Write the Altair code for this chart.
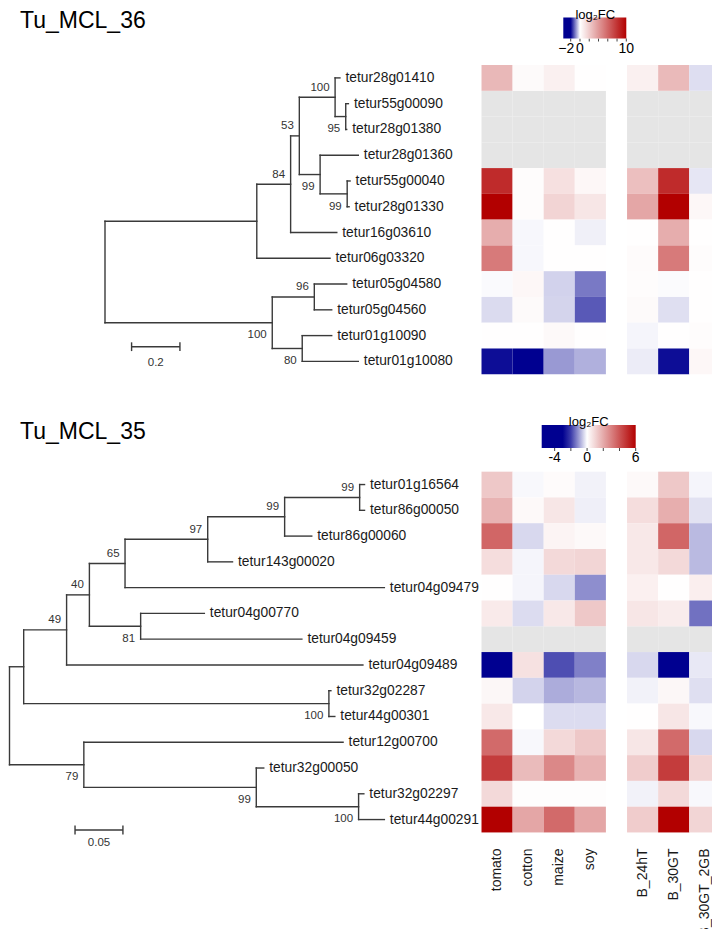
import altair as alt
import pandas as pd

# ---------------- data ----------------
conditions = ["tomato", "cotton", "maize", "soy", "B_24hT", "B_30GT", "B_30GT_2GB"]
condition_group = [0, 0, 0, 0, 1, 1, 1]

# --- Tu_MCL_36 tree (depths = distance from root, substitutions/site) ---
leaves36 = ["tetur28g01410", "tetur55g00090", "tetur28g01380", "tetur28g01360",
            "tetur55g00040", "tetur28g01330", "tetur16g03610", "tetur06g03320",
            "tetur05g04580", "tetur05g04560", "tetur01g10090", "tetur01g10080"]
leaf_parent36 = ["D", "F", "F", "E", "G", "G", "B", "A", "I", "I", "J", "J"]
leaf_depth36 = [0.972, 1.007, 1.000, 1.048, 1.014, 1.010, 0.959, 0.931, 1.000, 0.938, 0.938, 1.048]
nodes36 = ["root", "A", "B", "C", "D", "F", "E", "G", "H", "I", "J"]
node_parent36 = ["", "root", "A", "B", "C", "D", "C", "E", "root", "H", "H"]
node_depth36 = [0.0, 0.628, 0.768, 0.804, 0.952, 0.996, 0.890, 1.002, 0.692, 0.866, 0.816]
node_boot36 = [None, None, 84, 53, 100, 95, 99, 99, 100, 96, 80]
node_side36 = ["", "", "above", "above", "above", "below", "below", "below", "below", "above", "below"]
scalebar36 = 0.2

# --- Tu_MCL_35 tree ---
leaves35 = ["tetur01g16564", "tetur86g00050", "tetur86g00060", "tetur143g00020",
            "tetur04g09479", "tetur04g00770", "tetur04g09459", "tetur04g09489",
            "tetur32g02287", "tetur44g00301", "tetur12g00700", "tetur32g00050",
            "tetur32g02297", "tetur44g00291"]
leaf_parent35 = ["T", "T", "S", "R", "Q", "U", "U", "M", "N", "N", "L", "V", "W", "W"]
leaf_depth35 = [0.3706, 0.3706, 0.3155, 0.2328, 0.3913, 0.2034, 0.3052, 0.3689,
                0.3355, 0.3396, 0.3482, 0.2654, 0.3699, 0.3913]
nodes35 = ["root", "K", "M", "P", "Q", "R", "S", "T", "U", "N", "L", "V", "W"]
node_parent35 = ["", "root", "K", "M", "P", "Q", "R", "S", "P", "K", "root", "L", "V"]
node_depth35 = [0.0, 0.0148, 0.0596, 0.0834, 0.1206, 0.2069, 0.2872, 0.3655, 0.1369,
                0.3334, 0.0776, 0.2576, 0.3644]
node_boot35 = [None, None, 49, 40, 65, 97, 99, 99, 81, 100, 79, 99, 100]
node_side35 = ["", "", "above", "above", "above", "above", "above", "above", "below",
               "below", "below", "below", "below"]
scalebar35 = 0.05

# --- log2FC values (None = no data, grey) ---
tomato36 = [2.8, None, None, None, 8.3, 10.0, 3.2, 5.2, -0.04, -0.28, 0.05, -1.9]
cotton36 = [0.2, None, None, None, 0.1, 0.1, -0.06, -0.06, 0.3, 0.2, 0.03, -2.2]
maize36 = [0.6, None, None, None, 1.2, 1.7, 0.05, 0.05, -0.35, -0.34, 0.25, -0.8]
soy36 = [0.05, None, None, None, 0.3, 1.0, -0.12, 0.05, -1.05, -1.3, 0.05, -0.62]
b24ht36 = [0.6, None, None, None, 2.5, 3.5, 0.05, 0.15, 0.1, 0.2, -0.08, -0.15]
b30gt36 = [2.7, None, None, None, 8.3, 10.0, 3.2, 5.2, -0.03, -0.25, 0.02, -1.9]
b30gt2gb36 = [-0.26, None, None, None, -0.2, 0.3, 0.05, 0.1, 0.05, 0.05, 0.1, 0.3]

tomato35 = [1.3, 1.8, 3.6, 0.8, 0.03, 0.5, None, -3.0, 0.2, 0.55, 3.5, 4.6, 0.9, 6.0]
cotton35 = [-0.07, 0.15, -0.4, -0.1, -0.1, -0.36, None, 0.7, -0.45, 0.0, -0.07, 1.6, 0.05, 2.1]
maize35 = [0.1, 0.6, 0.25, 0.9, -0.4, 0.55, None, -1.8, -0.85, -0.36, 0.9, 2.8, 0.05, 3.5]
soy35 = [-0.13, -0.16, 0.15, 1.0, -1.15, 1.3, None, -1.3, -0.72, -0.36, 1.3, 1.8, 0.05, 2.1]
b24ht35 = [0.15, 0.8, 0.55, 0.55, 0.35, 0.6, None, -0.4, -0.13, 0.03, 0.6, 1.2, -0.13, 1.2]
b30gt35 = [1.3, 1.9, 3.6, 0.9, 0.03, 0.45, None, -3.0, 0.2, 0.6, 3.5, 4.6, 0.9, 6.0]
b30gt2gb35 = [-0.1, -0.3, -0.7, -0.7, 0.4, -1.45, None, -0.23, -0.33, -0.07, -0.4, 1.0, -0.07, 1.0]

# colour-bar ticks and labels
cbar_ticks36 = [-2, 0, 2, 4, 6, 8, 10]
cbar_labels36 = ["−2", "0", "10"]
cbar_label_values36 = [-2, 0, 10]
cbar_ticks35 = [-4, -2, 0, 2, 4, 6]
cbar_labels35 = ["-4", "0", "6"]
cbar_label_values35 = [-4, 0, 6]

titles = ["Tu_MCL_36", "Tu_MCL_35"]

# ---------------- layout ----------------
W, H = 704, 921
MARGIN = 8
ROW0 = 77.9          # screen y of first row centre
ROW_PX = 25.77
OFFSET35 = 15.78     # row offset of the second block
HEAT_LEFT = 481.5
COL_PX = 31.1
GROUP_GAP = 0.68
FONT = "Liberation Sans"
LINE = "#3a3a3a"


def dom(origin, ppu):
    return [(MARGIN - origin) / ppu, (MARGIN + W - origin) / ppu]


YDOM = [(MARGIN - ROW0) / ROW_PX, (MARGIN + H - ROW0) / ROW_PX]
XHEAT = dom(HEAT_LEFT, COL_PX)
XT36 = dom(105, 241.7)
XT35 = dom(9.5, 958)

# colour scales and their bars (screen position of bar start, bar length)
CDOM36 = [-3.6, -2, 0, 10]
CDOM35 = [-5.6, -2.6, 0, 6]
BAR36_X, BAR36_LEN, BAR36_T = 563.3, 63, 21
BAR35_X, BAR35_LEN, BAR35_T = 541.7, 94, 23
XC36 = dom(BAR36_X - CDOM36[0] * BAR36_LEN / (CDOM36[-1] - CDOM36[0]), BAR36_LEN / (CDOM36[-1] - CDOM36[0]))
XC35 = dom(BAR35_X - CDOM35[0] * BAR35_LEN / (CDOM35[-1] - CDOM35[0]), BAR35_LEN / (CDOM35[-1] - CDOM35[0]))
LEG36_Y = 0.5
LEG35_Y = 408
TITLE_FS, TITLE_PAD = 13, -4


def yq(field="y"):
    return alt.Y(f"{field}:Q", scale=alt.Scale(domain=YDOM, reverse=True, nice=False, zero=False), axis=None)


def xq(field, d):
    return alt.X(f"{field}:Q", scale=alt.Scale(domain=d, nice=False, zero=False), axis=None)


def tree_layers(leaves, leaf_parent, leaf_depth, nodes, node_parent, node_depth,
                boots, sides, offset, xd, bar_len, bar_x, bar_y, bar_dy):
    ypos, depth, parent = {}, {}, {}
    for i, (n, p, d) in enumerate(zip(leaves, leaf_parent, leaf_depth)):
        ypos[n] = offset + i
        depth[n] = d
        parent[n] = p
    for n, p, d in zip(nodes, node_parent, node_depth):
        depth[n] = d
        parent[n] = p
    children = {n: [] for n in nodes}
    for n, p in parent.items():
        if p:
            children[p].append(n)

    def gety(n):
        if n not in ypos:
            ys = [gety(c) for c in children[n]]
            ypos[n] = (min(ys) + max(ys)) / 2
        return ypos[n]

    for n in nodes:
        gety(n)
    segs = []
    for n, p in parent.items():
        if p:
            segs.append(dict(x=depth[p], x2=depth[n], y=ypos[n], y2=ypos[n]))
    for n in nodes:
        ys = [ypos[c] for c in children[n]]
        segs.append(dict(x=depth[n], x2=depth[n], y=min(ys), y2=max(ys)))
    segdf = pd.DataFrame(segs)
    leafdf = pd.DataFrame(dict(name=leaves, x=[depth[n] for n in leaves], y=[ypos[n] for n in leaves]))
    bootrows = [dict(x=depth[n], y=ypos[n], label=str(b), side=s)
                for n, b, s in zip(nodes, boots, sides) if b is not None]
    bootdf = pd.DataFrame(bootrows)

    lines = alt.Chart(segdf).mark_rule(color=LINE, strokeWidth=1.4, strokeCap="square").encode(
        x=xq("x", xd), x2="x2:Q", y=yq(), y2="y2:Q")
    labels = alt.Chart(leafdf).mark_text(align="left", baseline="middle", dx=5.5, fontSize=13.8,
                                         font=FONT, color="#1a1a1a").encode(
        x=xq("x", xd), y=yq(), text="name:N")
    above = alt.Chart(bootdf[bootdf.side == "above"]).mark_text(
        align="right", baseline="middle", dx=-5.5, dy=-9.7, fontSize=11.5, font=FONT, color="#333333").encode(
        x=xq("x", xd), y=yq(), text="label:N")
    below = alt.Chart(bootdf[bootdf.side == "below"]).mark_text(
        align="right", baseline="middle", dx=-5.5, dy=12.7, fontSize=11.5, font=FONT, color="#333333").encode(
        x=xq("x", xd), y=yq(), text="label:N")
    tick = 0.17
    sb = pd.DataFrame([
        dict(x=bar_x, x2=bar_x + bar_len, y=bar_y, y2=bar_y),
        dict(x=bar_x, x2=bar_x, y=bar_y - tick, y2=bar_y + tick),
        dict(x=bar_x + bar_len, x2=bar_x + bar_len, y=bar_y - tick, y2=bar_y + tick),
    ])
    sbar = alt.Chart(sb).mark_rule(color=LINE, strokeWidth=1.4).encode(
        x=xq("x", xd), x2="x2:Q", y=yq(), y2="y2:Q")
    sblab = alt.Chart(pd.DataFrame(dict(x=[bar_x + bar_len / 2], y=[bar_y], t=[f"{bar_len:g}"]))).mark_text(
        align="center", baseline="middle", dy=bar_dy, fontSize=11.5, font=FONT, color="#333333").encode(
        x=xq("x", xd), y=yq(), text="t:N")
    return [lines, labels, above, below, sbar, sblab]


def heat_layers(vals, leaves, offset, cdomain, crange, legend):
    rows = []
    for j, (cond, grp) in enumerate(zip(conditions, condition_group)):
        pos = j + GROUP_GAP * grp
        for i, leaf in enumerate(leaves):
            rows.append(dict(cond=cond, leaf=leaf, x=pos, x2=pos + 1,
                             y=offset + i - 0.5, y2=offset + i + 0.5, v=vals[j][i]))
    df = pd.DataFrame(rows)
    ok = df[df.v.notna()].copy()
    na = df[df.v.isna()].drop(columns="v")
    heat = alt.Chart(ok).mark_rect(strokeWidth=0).encode(
        x=xq("x", XHEAT), x2="x2:Q", y=yq(), y2="y2:Q",
        color=alt.Color("v:Q", scale=alt.Scale(domain=cdomain, range=crange, interpolate="rgb", clamp=True),
                        legend=legend))
    grey = alt.Chart(na).mark_rect(color="#e5e5e5", strokeWidth=0).encode(
        x=xq("x", XHEAT), x2="x2:Q", y=yq(), y2="y2:Q")
    return [grey, heat]


def make_legend(x, y, length, thickness):
    return alt.Legend(orient="none", legendX=x, legendY=y, direction="horizontal",
                      gradientLength=length, gradientThickness=thickness, gradientStrokeWidth=0,
                      title="log₂FC", titleFontSize=TITLE_FS, titleFontWeight="normal", titleAnchor="middle",
                      titlePadding=TITLE_PAD, titleColor="#000000", titleFont=FONT,
                      labelExpr="''", labelOffset=0, labelFontSize=1, padding=0, offset=0)


def bar_annotations(ticks, labels, label_values, xd, bar_bottom, left_label_right=False):
    tdf = pd.DataFrame(dict(x=ticks))
    rules = alt.Chart(tdf).mark_rule(color="#444444", strokeWidth=1).encode(
        x=xq("x", xd), y=alt.value(bar_bottom), y2=alt.value(bar_bottom + 3))
    ldf = pd.DataFrame(dict(x=label_values, t=labels))
    out = [rules]
    if left_label_right:
        out.append(alt.Chart(ldf.iloc[:1]).mark_text(
            align="right", baseline="middle", dx=3.5, fontSize=14, font=FONT, color="#000000").encode(
            x=xq("x", xd), y=alt.value(bar_bottom + 10), text="t:N"))
        ldf = ldf.iloc[1:]
    out.append(alt.Chart(ldf).mark_text(
        align="center", baseline="middle", fontSize=14, font=FONT, color="#000000").encode(
        x=xq("x", xd), y=alt.value(bar_bottom + 10), text="t:N"))
    return out


NAVY, WHITE, RED = "#000090", "#ffffff", "#b20000"

layers = []
layers += tree_layers(leaves36, leaf_parent36, leaf_depth36, nodes36, node_parent36, node_depth36,
                      node_boot36, node_side36, 0, XT36, scalebar36, 0.11, (346.7 - ROW0) / ROW_PX, 16.6)
layers += tree_layers(leaves35, leaf_parent35, leaf_depth35, nodes35, node_parent35, node_depth35,
                      node_boot35, node_side35, OFFSET35, XT35, scalebar35, 0.0684, (830 - ROW0) / ROW_PX, 13.3)
layers += heat_layers([tomato36, cotton36, maize36, soy36, b24ht36, b30gt36, b30gt2gb36], leaves36, 0,
                      CDOM36, [NAVY, NAVY, WHITE, RED],
                      make_legend(BAR36_X - MARGIN, LEG36_Y, BAR36_LEN, BAR36_T))
layers += heat_layers([tomato35, cotton35, maize35, soy35, b24ht35, b30gt35, b30gt2gb35], leaves35, OFFSET35,
                      CDOM35, [NAVY, NAVY, WHITE, RED],
                      make_legend(BAR35_X - MARGIN, LEG35_Y, BAR35_LEN, BAR35_T))
layers += bar_annotations(cbar_ticks36, cbar_labels36, cbar_label_values36, XC36,
                          LEG36_Y + TITLE_FS + TITLE_PAD + BAR36_T, left_label_right=True)
layers += bar_annotations(cbar_ticks35, cbar_labels35, cbar_label_values35, XC35,
                          LEG35_Y + TITLE_FS + TITLE_PAD + BAR35_T)

# column labels under the lower heat map
coldf = pd.DataFrame(dict(cond=conditions,
                          x=[j + GROUP_GAP * g + 0.5 for j, g in enumerate(condition_group)],
                          y=[OFFSET35 + len(leaves35) - 0.5] * len(conditions)))
layers.append(alt.Chart(coldf).mark_text(angle=270, align="right", baseline="middle", dx=-16,
                                         fontSize=14, font=FONT, color="#1a1a1a").encode(
    x=xq("x", XHEAT), y=yq(), text="cond:N"))

# section titles
for t, yb in zip(titles, [28.2, 439.3]):
    layers.append(alt.Chart(pd.DataFrame(dict(t=[t]))).mark_text(
        align="left", baseline="alphabetic", fontSize=23, font=FONT, color="#000000").encode(
        x=alt.value(20 - MARGIN), y=alt.value(yb - MARGIN), text="t:N"))

chart = alt.layer(*layers).resolve_scale(x="independent", color="independent").properties(
    width=W, height=H, padding=0, autosize=alt.AutoSizeParams(type="none")
).configure(font=FONT).configure_view(stroke=None)

chart.save("out.html", embed_options={"renderer": "svg", "actions": False})
